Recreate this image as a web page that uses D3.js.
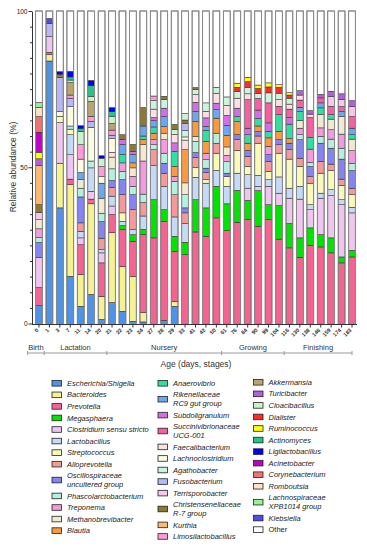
<!DOCTYPE html>
<html lang="en">
<head>
<meta charset="utf-8">
<title>Relative abundance by age</title>
<script src="https://cdn.jsdelivr.net/npm/d3@7"></script>
<style>
  body { margin: 0; background: #fff; }
  text { font-family: Arial, "Liberation Sans", sans-serif; }
</style>
</head>
<body>
<div id="chart"></div>
<script>
"use strict"

// ages (days) on x axis
var dias = ["0","1","3","7","11","14","20","21","22","23","24","27","28","29","33","41","42","50",
            "61","76","84","90","99","104","116","130","138","146","159","174","183"];

// production stages: first and last day of each
var fases = ["Birth", "Lactation", "Nursery", "Growing", "Finishing"];
var faseInicio = ["0", "1", "21", "61", "116"];
var faseFim = ["0", "20", "50", "104", "183"];

var taxa = ["Escherichia/Shigella","Bacteroides","Prevotella","Megasphaera","Clostridium sensu stricto",
  "Lactobacillus","Streptococcus","Alloprevotella","Oscillospiraceae\nuncultered group","Phascolarctobacterium",
  "Treponema","Methanobrevibacter","Blautia","Anaerovibrio","Rikenellaceae\nRC9 gut group","Subdoligranulum",
  "Succinivibrionaceae\nUCG-001","Faecalibacterium","Lachnoclostridium","Agathobacter","Fusobacterium",
  "Terrisporobacter","Christensenellaceae\nR-7 group","Kurthia","Limosilactobacillus","Akkermansia",
  "Turicibacter","Cloacibacillus","Dialister","Ruminococcus","Actinomyces","Ligilactobacillus",
  "Acinetobacter","Corynebacterium","Romboutsia","Lachnospiraceae\nXPB1014 group","Klebsiella","Other"];

var cores = ["#4d94e8","#f6f292","#f56491","#00e400","#f0c6f0",
  "#c5daf6","#fafab8","#f49a9a","#8484f4","#b4f0dc",
  "#f39ae0","#f2ead0","#fb9a3c","#30e0a0","#6aa8f2","#d36ee8",
  "#f5619f","#fde0e0","#fcfce0","#c8f4e0","#b8b8f8",
  "#f8c8ec","#8c7a2e","#ffb870","#ff9cd8","#b8a66e",
  "#b45ee0","#ccf2cc","#ff2a2a","#ffff00","#22c584","#0000ff",
  "#c000c8","#f27272","#ffe2c4","#96f096","#4e4ee6","#ffffff"];

// relative abundance (%) per taxon, one value per age
var escherichia  = [5.7, 84,37,15.1,5.5,9.3,1.3, 6.6,3.9,0.7,0.5,0,1,5.5,0,0,0,0, 0,0,0,0,0,0, 0,0,0,0,0,0,0];
var bacteroides  = [0, 2,14.3,29.3,10.2,29,7.4, 22,14.4,14.4,3,0,0,1.6,0,0,0,0, 0,0,0,0,0,0, 0,0,0,0,0,0,0];
var prevotella   = [5.8, 0.8,0,1.8,9.5,1.5,10.7, 5.7,11.7,11.2,25,27.4,31.7,16,22,29.3,27.9,33.8, 29.7,32.4,33.2,31.1,33.2,27, 24.2,21.2,25,24.5,22.6,19.4,21.3];
var megasphaera  = [0, 0,0,0,0,0,0, 0,1.3,2.1,1.6,12.2,3.7,4.8,4,10.3,9.1,10.1, 8.6,10.2,6.2,11.4,4.8,10.7, 7.8,6.2,5.6,3.9,4.8,1.9,2.1];
var clostridium  = [9.6, 5,13,7.8,2.2,2.5,3.2, 2.7,0,0,0,0,0,0,0,0,0,0, 0,0,3.9,1.4,5.9,4, 8.1,12.4,5.8,11.7,13.5,16.7,12];
var lactobacillus= [0, 0,0,6.4,2.1,7.5,1, 3.1,1.4,1.6,4.3,10.9,7.5,6.2,6,7.2,7.9,5.1, 5.6,5.5,4.3,3.5,2.1,5.2, 3.2,4.1,1.6,1.6,1.9,1.6,1.8];
var streptococcus= [0, 0,2,1.8,0,0,0, 0,2.7,0,0,0,0,0,0,3.1,1.1,5.5, 3.1,7.3,2.7,10.3,2.7,7.6, 9.3,6.4,6.9,6.4,6.1,4.6,4];
var alloprevotella=[0, 0,0,0,2.7,0,3.7, 2.7,5.8,6.4,4.3,5.1,4.2,7.1,3.4,3.2,2.3,3.2, 0,3.4,3.2,2.3,3.2,2.7, 3,2.6,2.1,3.8,2.1,2,2.1];
var oscillo      = [4.8, 0,0,0,8.3,0,5.3, 2.2,4.8,4.8,0,0,3.2,0,1.6,1.6,1.4,0, 1.1,1.6,1.9,1.4,2.1,1.6, 2.1,5.9,3.2,5.8,5.1,6.4,5.6];
var phascolarcto = [1.6, 0,0,1,2.8,2.2,2.7, 3.7,2.7,2.7,2.7,1.6,3.2,4.3,4.2,3.6,2.7,3.2, 3.7,0,0,0,0,0, 0,1.6,1.3,2.2,2.9,3.5,2.4];
var treponema    = [2.8, 0,0,0,0,0,0, 0,2.7,3.2,10.6,1.6,4.3,1.6,0,0,2.1,0, 2,0,0,0,2.7,0, 0,2.1,4.3,2.7,3,4.5,4];
var methano      = [2.9, 0,0,0,2.7,0,4.8, 3.7,0,2.7,5.3,0,2.1,0,3.8,1.6,0,0, 2.7,0,0,0,0,0, 0,2.5,0,4.3,3.4,5.6,3.7];
var blautia      = [0, 0,0,0,0,0,0, 0,0,1.6,1.6,2.1,2.1,3.2,10.6,4.8,3.8,4.8, 3.7,4.2,2.3,1.8,2.7,2.7, 1.5,0,0,0,0,0,0];
var anaerovibrio = [0, 0,0,0,0,0,0, 0,2.7,0,1.1,2,0,4.8,0,0,3.5,0, 0,1.6,2.7,2.4,2.1,5.3, 4.6,2.8,3.7,2.1,1.4,0,1.4];
var rikenella    = [0, 0,0,0,2.3,0,4.8, 0,3.2,2.7,3.2,2,3.2,0,0,3.2,1.3,2.7, 3.2,0,0,0,0,0, 0,1.4,0,1.6,0,1.6,2.1];
var subdoli      = [0, 0,0,0,0,0,0, 0,1.6,1,0,1,2.7,2.7,0,2.9,2.7,2.1, 3.2,2.7,2.1,2.7,2.7,0, 2.1,0,0,0,0,0,0];
var succinivib   = [0, 0,0,0,0,0,0, 0,0,0,0,0,0,0,0,0,0,0, 0,0,9.1,3.7,6.4,2.7, 2.7,2.3,6.4,1.6,2.7,1.6,3.7];
var faecali      = [0, 0,0,0,0,0,0, 1.5,0,0,0,2.7,0,2.7,3.1,2.5,2.1,3.2, 3.2,3.2,1.9,0,0,2.1, 1.6,1.6,1.1,0,0,0,0];
var lachnoclost  = [0, 0,1.5,6.2,4.3,10.8,2.1, 4.3,0,0,0,0,0,0,1,0,0,0, 0,0,0,0,0,0, 0,0,0,0,0,0,0];
var agatho       = [0, 0,0,0,0,0,0, 0,0,0,0,2.7,2.7,1.6,2,1.6,2.7,1.9, 2.7,2.1,2.1,1.6,3.2,2.1, 1.9,0,0,0,0,0,0];
var fuso         = [0, 4.2,11,2.7,0,1.9,0, 1.1,0,0,0,0,0,0,2.4,0,0,0, 0,0,0,0,0,0, 0,0,0,0,0,0,0];
var terrispo     = [2.4, 0,0,0,0,0,0, 0,0,0,0,0,0,0,0,0,0,0, 0,0,0,0,0,0, 0,0,0,0,3.2,2.2,3.2];
var christens    = [2.4, 0,1,0,0,0,0, 0,1.5,2.2,5.9,0,1.1,1.6,1,0.6,0,0, 0,0,0,0,0,0, 0,0,0,0,0,0,0];
var kurthia      = [12.6, 0,0,0,0,0,0, 0,0,0,0,0,0,0,0,0,0,0, 0,0,0,0,0,0, 0,0,0,0,0,0,0];
var limosi       = [0, 0,0,1,4.6,1.6,3.2, 1.6,0,0,0,1.5,0,0,0,0,0,0, 0,0,0,0,0,0, 0,0,0,0,0,0,0];
var akkermansia  = [0, 0,0,4,0,4.8,0, 2.1,0,0,0,0,0,0,0,0,0,0, 0,0,0,0,0,0, 0,0,0,0,0,0,0];
var turici       = [2.1, 0,0,0,0,0,0, 0,0,0,0,0,0,0,0,0,0,0, 0,0,0,0,0,0, 0,1.4,1.1,1.1,1.6,1.9,1.9];
var cloaci       = [0, 0,0,0.8,4.2,1.6,2.7, 2.1,0,0,0,0,0,0,2.1,0,0,0, 0,0,0,0,0,0, 0,0,0,0,0,0,0];
var dialister    = [0, 0,0,0,0,0,0, 0,0,0,0,0,0,0,0,0,0,0, 0,1.4,1.8,1.6,1.9,1.9, 1,0,0,0,0,0,0];
var rumino       = [2.1, 0,0,0,0,0,0, 0,0,0,0,0,0,0,0,0,0,0, 0,1.3,1.4,1.1,1.3,0.8, 0.8,0,0,0,0,0,0];
var actino       = [0, 0,0,1,1,3.4,0, 1.6,0,0,0,0,0,0,0,0,0,0, 0,0,0,0,0,0, 0,0,0,0,0,0,0];
var ligila       = [0, 0,0.8,1.8,0.9,1.7,0.8, 1.3,0,0,0,0,0,0,0,0,0,0, 0,0,0,0,0,0, 0,0,0,0,0,0,0];
var acineto      = [6.4, 0,0,0,0,0,0, 0,0,0,0,0,0,0,0,0,0,0, 0,0,0,0,0,0, 0,0,0,0,0,0,0];
var coryne       = [5, 0,0,0,0,0,0, 0,0,0,0,0,0,0,0,0,0,0, 0,0,0,0,0,0, 0,0,0,0,0,0,0];
var romboutsia   = [3, 0,0,0,0,0,0, 0,0,0,0,0,0,0,0,0,0,0, 0,0,0,0,0,0, 0,0,0,0,0,0,0];
var lachnoXPB    = [1.5, 0,0,0,0,0,0, 0,0,0,0,0,0,0,0,0,0,0, 0,0,0,0,0,0, 0,0,0,0,0,0,0];
var klebsiella   = [0, 1.6,0,0,0,0,0, 0,0,0,0,0,0,0,0,0,0,0, 0,0,0,0,0,0, 0,0,0,0,0,0,0];
var outros       = [29.3, 2.4,19.4,19.3,36.7,22.2,46.3, 30.4,39.6,42.7,30.9,27.2,27.3,36.3,32.8,24.5,29.4,24.4, 27.5,23.1,21.2,23.7,23,23.6, 26.1,25.5,31.9,26.7,25.7,26.5,28.7];

var series = [escherichia,bacteroides,prevotella,megasphaera,clostridium,lactobacillus,streptococcus,
  alloprevotella,oscillo,phascolarcto,treponema,methano,blautia,anaerovibrio,rikenella,subdoli,succinivib,
  faecali,lachnoclost,agatho,fuso,terrispo,christens,kurthia,limosi,akkermansia,turici,cloaci,dialister,
  rumino,actino,ligila,acineto,coryne,romboutsia,lachnoXPB,klebsiella,outros];

var svg = d3.select('#chart').append('svg')
  .attr('width', 367).attr('height', 550);

var x = d3.scaleBand().domain(dias).range([33.5, 357.5])
  .paddingInner(0.35).paddingOuter(0.2);
var y = d3.scaleLinear().domain([0, 1]).range([323.5, 11]);

var linhas = dias.map(function(d, i) {
  var o = {dia: d};
  taxa.forEach(function(t, j) { o[t] = series[j][i] || 0; });
  return o;
});

var pilha = d3.stack().keys(taxa).offset(d3.stackOffsetExpand)(linhas);

var grafico = svg.append('g');
grafico.selectAll('g.camada')
  .data(pilha)
  .enter().append('g')
    .attr('fill', (d, i) => cores[i])
  .selectAll('rect')
  .data(d => d.filter(p => p[1] - p[0] > 0))
  .enter().append('rect')
    .attr('x', d => x(d.data.dia))
    .attr('y', d => y(d[1]))
    .attr('width', x.bandwidth())
    .attr('height', d => y(d[0]) - y(d[1]))
    .attr('stroke', '#222')
    .attr('stroke-width', 0.5);

// grey outline around every bar
grafico.selectAll('rect.contorno')
  .data(dias)
  .enter().append('rect')
    .attr('class', 'contorno')
    .attr('x', d => x(d))
    .attr('y', y(1))
    .attr('width', x.bandwidth())
    .attr('height', y(0) - y(1))
    .attr('fill', 'none')
    .attr('stroke', '#8a8a8a')
    .attr('stroke-width', 1);

// y axis
var eixoY = svg.append('g')
  .attr('transform', 'translate(32,0)')
  .call(d3.axisLeft(y)
    .tickValues(d3.range(0, 21).map(i => i / 20))
    .tickSizeOuter(0)
    .tickFormat(d => (Math.round(d * 100) % 50 === 0 ? Math.round(d * 100) : '')));
eixoY.selectAll('.tick line')
  .attr('x2', d => (Math.round(d * 100) % 50 === 0 ? -3.5 : -2))
  .attr('stroke', '#333');
eixoY.select('.domain').attr('stroke', '#333');
eixoY.selectAll('text')
  .attr('x', -4.5)
  .style('font-size', '6.5px')
  .attr('fill', '#222');

svg.append('text')
  .attr('transform', 'translate(16,167) rotate(-90)')
  .style('text-anchor', 'middle')
  .style('font-size', '8.5px')
  .attr('fill', '#333')
  .text('Relative abundance (%)');

// x axis
var eixoX = svg.append('g')
  .attr('transform', 'translate(0,324.5)')
  .call(d3.axisBottom(x).tickSize(3).tickSizeOuter(0));
eixoX.select('.domain').attr('d', 'M32,0H357').attr('stroke', '#333');
eixoX.selectAll('.tick line').attr('stroke', '#333');
eixoX.selectAll('text')
  .attr('y', 0).attr('dy', 0)
  .attr('transform', 'translate(0,6) rotate(-45)')
  .style('text-anchor', 'end')
  .style('font-size', '5.5px')
  .style('font-weight', 'bold')
  .attr('fill', '#333');

// stage brackets
var meio = function(a, b) { return (x(a) + x(b)) / 2 + x.bandwidth() / 2; };
var limites = [x(dias[0]) - 8];
faseInicio.slice(1).forEach(function(d) {
  var i = dias.indexOf(d);
  limites.push(meio(dias[i - 1], d));
});
limites.push(x(dias[dias.length - 1]) + x.bandwidth() / 2);

var yFase = 353;
svg.append('line')
  .attr('x1', limites[0]).attr('x2', limites[limites.length - 1])
  .attr('y1', yFase).attr('y2', yFase)
  .attr('stroke', '#9a9a9a').attr('stroke-width', 1);
svg.selectAll('line.marca')
  .data(limites)
  .enter().append('line')
    .attr('x1', d => d).attr('x2', d => d)
    .attr('y1', yFase - 2).attr('y2', yFase + 2)
    .attr('stroke', '#9a9a9a').attr('stroke-width', 1);
svg.selectAll('text.fase')
  .data(fases)
  .enter().append('text')
    .attr('x', (d, i) => (limites[i] + limites[i + 1]) / 2)
    .attr('y', 350)
    .style('text-anchor', 'middle')
    .style('font-size', '7.5px')
    .attr('fill', '#333')
    .text(d => d);

svg.append('text')
  .attr('x', 196).attr('y', 367)
  .style('text-anchor', 'middle')
  .style('font-size', '8.5px')
  .attr('fill', '#333')
  .text('Age (days, stages)');

// legend, three columns
var colunas = [{x: 52, y: 383.3, de: 0, ate: 13},
               {x: 158, y: 383.3, de: 13, ate: 25},
               {x: 253.5, y: 382.3, de: 25, ate: 38}];
var passo = 11.55, linhaExtra = 8.7;
var legenda = svg.append('g');
colunas.forEach(function(c) {
  var cy = c.y;
  for (var i = c.de; i < c.ate; i++) {
    var partes = taxa[i].split('\n');
    var centro = cy + (partes.length - 1) * linhaExtra / 2;
    legenda.append('rect')
      .attr('x', c.x).attr('y', centro - 2.8)
      .attr('width', 9.5).attr('height', 5.6)
      .attr('fill', cores[i])
      .attr('stroke', '#222').attr('stroke-width', 0.8);
    var t = legenda.append('text')
      .attr('x', c.x + 15).attr('y', cy + 2.6)
      .style('font-size', '7.5px')
      .style('font-style', taxa[i] === 'Other' ? 'normal' : 'italic')
      .attr('fill', '#222');
    partes.forEach(function(p, k) {
      t.append('tspan').attr('x', c.x + 15).attr('dy', k === 0 ? 0 : linhaExtra).text(p);
    });
    cy += passo + (partes.length - 1) * linhaExtra;
  }
});
</script>
</body>
</html>
